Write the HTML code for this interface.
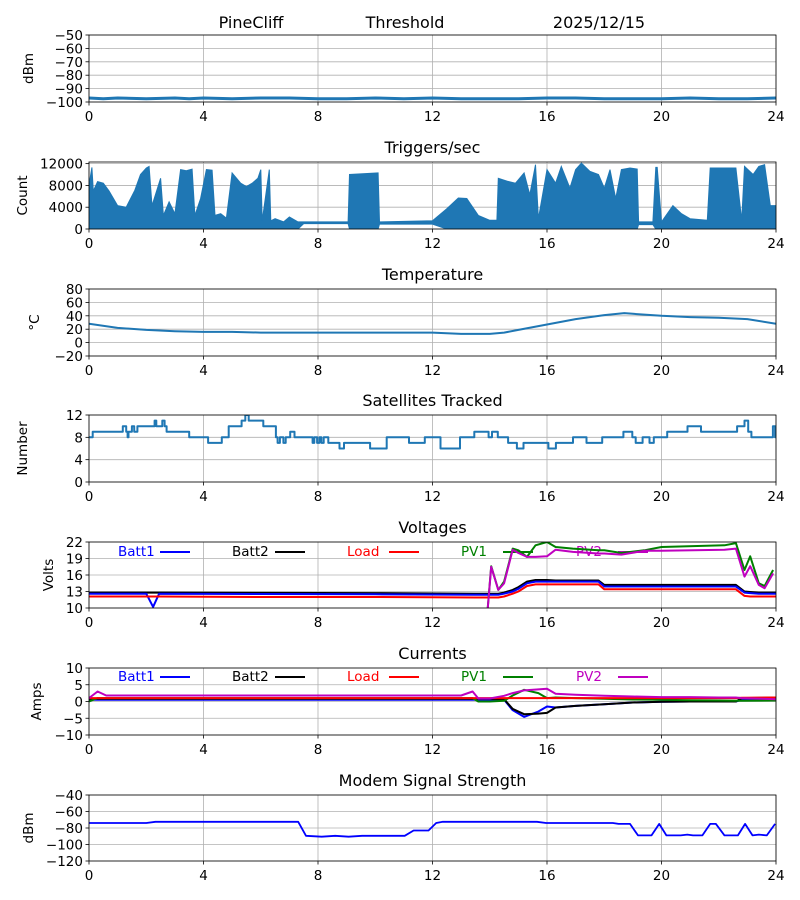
<!DOCTYPE html>
<html><head><meta charset="utf-8">
<style>
html,body{margin:0;padding:0;background:#fff;}
svg{display:block;font-family:"DejaVu Sans","Liberation Sans",sans-serif;}
</style></head>
<body>
<svg id="fig" width="800" height="900" viewBox="0 0 800 900" xmlns="http://www.w3.org/2000/svg">
<text x="251" y="28" font-size="16" text-anchor="middle">PineCliff</text>
<text x="405" y="28" font-size="16" text-anchor="middle">Threshold</text>
<text x="599" y="28" font-size="16" text-anchor="middle">2025/12/15</text>
</svg>
<script>
// ---------- data ----------
const xTicks = [0,4,8,12,16,20,24];
const sigHours = [0,0.5,1,2,3,3.5,4,5,6,7,8,9,10,11,12,13,14,15,16,17,18,19,20,21,22,23,24];
const sigValues = [-97,-97.5,-97,-97.5,-97,-97.5,-97,-97.5,-97,-97,-97.5,-97.5,-97,-97.5,-97,-97.5,-97.5,-97.5,-97,-97,-97.5,-97.5,-97.5,-97,-97.5,-97.5,-97];
const trigHours = [0,0.1,0.15,0.3,0.5,0.7,1,1.3,1.6,1.8,2.0,2.1,2.2,2.5,2.6,2.8,3.0,3.2,3.4,3.6,3.7,3.9,4.1,4.3,4.4,4.6,4.8,5.0,5.3,5.5,5.7,5.9,6.0,6.05,6.3,6.35,6.5,6.8,7.0,7.3,7.5,9.05,9.1,10.1,10.15,12.0,12.5,12.9,13.2,13.6,14.0,14.25,14.3,14.6,14.9,15.2,15.4,15.6,15.7,16,16.3,16.5,16.8,17,17.2,17.5,17.8,18,18.2,18.4,18.6,18.9,19.15,19.2,19.7,19.8,19.85,20,20.4,20.7,21,21.6,21.7,22.3,22.6,22.8,22.9,23.2,23.4,23.6,23.8,24];
const trigHigh = [8100,11300,7000,8700,8400,7000,4300,4000,7100,10000,11200,11500,4300,9300,2500,5000,2800,10900,10700,11000,2500,5600,10900,10800,2500,2800,2000,10300,8400,7800,8400,9300,10900,1500,10900,1500,1900,1300,2200,1300,1300,1300,10000,10300,1300,1500,3700,5700,5600,2500,1600,1600,9300,8800,8400,10300,6300,11800,1900,10900,8400,11500,7500,10900,12100,10600,10000,7500,10900,5600,10900,11200,11000,1300,1300,11300,11300,1300,4300,2800,1900,1600,11200,11200,11200,1600,11500,10000,11500,11800,4300,4300];
const trigLow = [0,0,0,0,0,0,0,0,0,0,0,0,0,0,0,0,0,0,0,0,0,0,0,0,0,0,0,0,0,0,0,0,0,0,0,0,0,0,0,0,1000,1000,0,0,900,900,0,0,0,0,0,0,0,0,0,0,0,0,0,0,0,0,0,0,0,0,0,0,0,0,0,0,0,800,800,0,0,0,0,0,0,0,0,0,0,0,0,0,0,0,0,0];
const tempHours = [0,1,2,3,4,5,6,8,10,12,13,14,14.5,15,16,17,18,18.7,19,20,21,22,23,24];
const tempValues = [28,22,19,17,16,16,15,15,15,15,13,13,15,19,27,35,41,44,43,40,38,37,35,28];
const satHours = [0,0.13,1.18,1.3,1.35,1.38,1.5,1.58,1.69,2.29,2.35,2.56,2.64,2.71,3.5,4.16,4.64,4.88,5.33,5.46,5.58,6.09,6.53,6.59,6.67,6.79,6.87,7.03,7.18,7.81,7.87,7.97,8.05,8.12,8.2,8.36,8.67,8.75,8.91,9.82,10.4,11.18,11.73,12.28,12.96,13.46,13.96,14.08,14.28,14.64,14.95,15.18,16.05,16.31,16.91,17.38,17.93,18.67,18.98,19.1,19.34,19.58,19.73,20.2,20.91,21.38,22.64,22.9,23.03,23.14,23.89,23.97,24];
const satValues = [8,9,10,9,8,9,10,9,10,11,10,11,10,9,8,7,8,10,11,12,11,10,8,7,8,7,8,9,8,7,8,7,8,7,8,7,7,6,7,6,8,7,8,6,8,9,8,9,8,7,6,7,6,7,8,7,8,9,8,7,8,7,8,9,10,9,10,11,9,8,10,8,8];
const voltHours = [0,2.0,2.24,2.45,6,10,13.5,13.77,14.05,14.3,14.5,14.8,15.0,15.3,15.6,16.0,16.3,16.9,17.8,18.0,18.6,19.4,20,22.2,22.6,22.9,23.1,23.4,23.6,23.9];
const batt1Volts = [12.6,12.6,10.2,12.6,12.55,12.5,12.4,12.4,12.4,12.4,12.6,13.0,13.5,14.5,14.8,14.8,14.8,14.8,14.8,13.9,13.9,13.9,13.9,13.9,13.9,12.8,12.7,12.6,12.6,12.6];
const batt2Volts = [12.8,12.8,12.8,12.8,12.75,12.7,12.6,12.6,12.6,12.6,12.8,13.3,13.8,14.8,15.1,15.1,15.0,15.0,15.0,14.2,14.2,14.2,14.2,14.2,14.2,13.0,12.9,12.8,12.8,12.8];
const loadVolts = [12.1,12.1,12.1,12.1,12.0,12.0,11.9,11.9,11.9,11.9,12.1,12.6,13.0,14.0,14.3,14.3,14.3,14.3,14.3,13.4,13.4,13.4,13.4,13.4,13.4,12.2,12.1,12.1,12.1,12.1];
const pv1Volts = [null,null,null,null,null,null,null,0,17.6,13.3,14.8,20.8,20.5,19.3,21.4,22,21.1,20.8,20.5,20.5,20,20.5,21.1,21.4,21.8,16.9,19.4,14.5,14,16.9];
const pv2Volts = [null,null,null,null,null,null,null,0,17.5,13.3,14.5,20.6,20.0,19.3,19.3,19.4,20.6,20.2,19.9,19.9,19.7,20.4,20.4,20.6,20.8,15.7,17.6,14.2,13.6,16.3];
const curHours = [0,0.3,0.6,6,13.0,13.4,13.6,14.0,14.5,14.8,15.2,15.7,16.0,16.3,17,18,19,20,21,22,22.6,22.8,24];
const batt1Amps = [0.5,0.5,0.5,0.5,0.5,0.5,0.5,0.5,0.5,-2.6,-4.6,-3.0,-1.5,-1.8,-1.3,-0.8,-0.3,-0.1,0,0,0,0.5,0.6];
const batt2Amps = [0.8,0.8,0.8,0.8,0.8,0.8,0.8,0.8,0.7,-2.2,-3.8,-3.6,-3.4,-1.8,-1.3,-0.8,-0.3,-0.1,0,0,0,1.0,1.2];
const loadAmps = [1.0,1.0,1.0,1.0,1.0,1.0,1.0,1.0,1.0,1.0,1.0,1.0,1.0,1.0,1.0,1.0,1.0,1.0,1.0,1.0,1.0,1.1,1.2];
const pv1Amps = [0,1.0,1.0,1.0,1.0,1.0,0,0,0.2,1.8,3.5,2.5,1.0,1.2,1.0,0.8,0.6,0.5,0.4,0.3,0.2,0.2,0.3];
const pv2Amps = [1.0,3.0,1.8,1.8,1.8,3.0,0.9,0.9,1.7,2.5,3.3,3.6,3.8,2.3,2.0,1.7,1.5,1.3,1.3,1.2,1.2,1.0,0.7];
const modemHours = [0,2.0,2.32,7.31,7.58,8.13,8.6,9.07,9.54,11.03,11.34,11.86,12.13,12.36,15.65,15.97,18.3,18.5,18.9,19.18,19.65,19.92,20.17,20.67,20.9,21.1,21.43,21.7,21.9,22.2,22.67,22.92,23.18,23.4,23.68,23.97];
const modemValues = [-74,-74,-72.5,-72.5,-89.5,-90.5,-89.5,-90.5,-89.5,-89.5,-83,-83,-74,-72.5,-72.5,-74,-74,-75,-75,-89,-89,-75,-89,-89,-88,-89,-89,-75,-75,-89,-89,-75,-89,-88,-89,-75];

// ---------- drawing ----------
const NS = "http://www.w3.org/2000/svg";
const svg = document.getElementById('fig');
const X0 = 89, X1 = 776;
function xScale(h){ return X0 + (h/24)*(X1-X0); }
function mk(tag){ return document.createElementNS(NS, tag); }
function fmt(v){ return v < 0 ? '\u2212' + Math.abs(v) : String(v); }

const panels = [
 {key:'signal', top:35, bottom:102, ymin:-100, ymax:-50, yticks:[-50,-60,-70,-80,-90,-100], title:null, ylabel:'dBm', lx:33},
 {key:'triggers', top:162, bottom:229, ymin:0, ymax:12300, yticks:[0,4000,8000,12000], title:'Triggers/sec', ylabel:'Count', lx:27},
 {key:'temperature', top:289, bottom:356, ymin:-20, ymax:80, yticks:[-20,0,20,40,60,80], title:'Temperature', ylabel:'\u00B0C', lx:39},
 {key:'satellites', top:415, bottom:482, ymin:0, ymax:12, yticks:[0,4,8,12], title:'Satellites Tracked', ylabel:'Number', lx:27},
 {key:'voltages', top:542, bottom:608, ymin:10, ymax:22, yticks:[10,13,16,19,22], title:'Voltages', ylabel:'Volts', lx:53},
 {key:'currents', top:668, bottom:735, ymin:-10, ymax:10, yticks:[-10,-5,0,5,10], title:'Currents', ylabel:'Amps', lx:41},
 {key:'modem', top:795, bottom:861, ymin:-120, ymax:-40, yticks:[-120,-100,-80,-60,-40], title:'Modem Signal Strength', ylabel:'dBm', lx:33}
];

function yFn(p){ return v => p.bottom - (v - p.ymin)/(p.ymax - p.ymin)*(p.bottom - p.top); }

function drawFrame(p){
  const g = mk('g');
  
  
  svg.appendChild(g);
  const ys = yFn(p);
  const clip = mk('clipPath'); clip.setAttribute('id','clip-'+p.key);
  const cr = mk('rect'); cr.setAttribute('x',X0); cr.setAttribute('y',p.top); cr.setAttribute('width',X1-X0); cr.setAttribute('height',p.bottom-p.top);
  clip.appendChild(cr); g.appendChild(clip);
  xTicks.forEach(t => {
    const l = mk('line');
    
    
    l.setAttribute('x1', xScale(t)); l.setAttribute('x2', xScale(t));
    l.setAttribute('y1', p.top); l.setAttribute('y2', p.bottom);
    l.setAttribute('stroke', '#b0b0b0'); l.setAttribute('stroke-width', '0.8');
    g.appendChild(l);
    const tk = mk('line');
    
    
    tk.setAttribute('x1', xScale(t)); tk.setAttribute('x2', xScale(t));
    tk.setAttribute('y1', p.bottom); tk.setAttribute('y2', p.bottom + 3.5);
    tk.setAttribute('stroke', '#000'); tk.setAttribute('stroke-width', '0.8');
    g.appendChild(tk);
    const tx = mk('text');
    
    
    tx.setAttribute('x', xScale(t)); tx.setAttribute('y', p.bottom + 19);
    tx.setAttribute('font-size', '13.5'); tx.setAttribute('text-anchor', 'middle');
    tx.textContent = t;
    g.appendChild(tx);
  });
  p.yticks.forEach(t => {
    const y = ys(t);
    const l = mk('line');
    
    
    l.setAttribute('x1', X0); l.setAttribute('x2', X1);
    l.setAttribute('y1', y); l.setAttribute('y2', y);
    l.setAttribute('stroke', '#b0b0b0'); l.setAttribute('stroke-width', '0.8');
    g.appendChild(l);
    const tk = mk('line');
    
    
    tk.setAttribute('x1', X0 - 3.5); tk.setAttribute('x2', X0);
    tk.setAttribute('y1', y); tk.setAttribute('y2', y);
    tk.setAttribute('stroke', '#000'); tk.setAttribute('stroke-width', '0.8');
    g.appendChild(tk);
    const tx = mk('text');
    
    
    tx.setAttribute('x', X0 - 6); tx.setAttribute('y', y + 5);
    tx.setAttribute('font-size', '13.5'); tx.setAttribute('text-anchor', 'end');
    tx.textContent = fmt(t);
    g.appendChild(tx);
  });
  if (p.title){
    const tt = mk('text');
    
    
    tt.setAttribute('x', (X0+X1)/2); tt.setAttribute('y', p.top - 9);
    tt.setAttribute('font-size', '16'); tt.setAttribute('text-anchor', 'middle');
    tt.textContent = p.title;
    g.appendChild(tt);
  }
  const yl = mk('text');
  
  
  const cy = (p.top + p.bottom)/2;
  yl.setAttribute('x', p.lx); yl.setAttribute('y', cy);
  yl.setAttribute('transform', 'rotate(-90 ' + p.lx + ' ' + cy + ')');
  yl.setAttribute('font-size', '13.5'); yl.setAttribute('text-anchor', 'middle');
  yl.textContent = p.ylabel;
  g.appendChild(yl);
  const dg = mk('g');
  
  
  dg.setAttribute('clip-path', 'url(#clip-' + p.key + ')');
  g.appendChild(dg);
  const fr = mk('rect');
  
  
  fr.setAttribute('x', X0); fr.setAttribute('y', p.top);
  fr.setAttribute('width', X1-X0); fr.setAttribute('height', p.bottom-p.top);
  fr.setAttribute('fill', 'none'); fr.setAttribute('stroke', '#000'); fr.setAttribute('stroke-width', '0.8');
  g.appendChild(fr);
  return {g: g, dg: dg, ys: ys};
}

function linePath(hours, vals, ys, step){
  let d = '', pen = false;
  for (let i = 0; i < hours.length; i++){
    const v = vals[i];
    if (v === null || v === undefined){ pen = false; continue; }
    const x = xScale(hours[i]), y = ys(v);
    if (!pen){ d += 'M' + x.toFixed(1) + ' ' + y.toFixed(1); pen = true; }
    else if (step){ d += 'H' + x.toFixed(1) + 'V' + y.toFixed(1); }
    else { d += 'L' + x.toFixed(1) + ' ' + y.toFixed(1); }
  }
  return d;
}

function addLine(ctx, name, hours, vals, color, width, step, extend){
  const path = mk('path');
  
  
  let d = linePath(hours, vals, ctx.ys, step);
  if (extend){ d += 'H' + xScale(24); }
  path.setAttribute('d', d);
  path.setAttribute('fill', 'none'); path.setAttribute('stroke', color);
  path.setAttribute('stroke-width', width); path.setAttribute('stroke-linejoin', 'round');
  ctx.dg.appendChild(path);
}

const C = panels.map(drawFrame);

addLine(C[0], 'signal-line', sigHours, sigValues, '#1f77b4', 3, false, false);

(function(){
  const ys = C[1].ys;
  let d = 'M' + xScale(trigHours[0]) + ' ' + ys(trigHigh[0]);
  for (let i = 1; i < trigHours.length; i++) d += 'L' + xScale(trigHours[i]).toFixed(1) + ' ' + ys(trigHigh[i]).toFixed(1);
  for (let i = trigHours.length - 1; i >= 0; i--) d += 'L' + xScale(trigHours[i]).toFixed(1) + ' ' + ys(trigLow[i]).toFixed(1);
  d += 'Z';
  const p = mk('path');
  
  
  p.setAttribute('d', d);
  p.setAttribute('fill', '#1f77b4'); p.setAttribute('stroke', '#1f77b4'); p.setAttribute('stroke-width', '1');
  C[1].dg.appendChild(p);
})();

addLine(C[2], 'temperature-line', tempHours, tempValues, '#1f77b4', 2, false, false);
addLine(C[3], 'satellites-line', satHours, satValues, '#1f77b4', 2, true, false);

const legendItems = [
  {label:'Batt1', color:'#0000ff', tx:118, lx:160},
  {label:'Batt2', color:'#000000', tx:232, lx:275},
  {label:'Load', color:'#ff0000', tx:347, lx:389},
  {label:'PV1', color:'#008000', tx:461, lx:503},
  {label:'PV2', color:'#bf00bf', tx:576, lx:618}
];
function drawLegend(ctx, key, y){
  legendItems.forEach(it => {
    const t = mk('text');
    
    
    t.setAttribute('x', it.tx); t.setAttribute('y', y + 5);
    t.setAttribute('font-size', '13.5'); t.setAttribute('fill', it.color);
    t.textContent = it.label;
    ctx.g.insertBefore(t, ctx.dg);
    const l = mk('line');
    
    
    l.setAttribute('x1', it.lx); l.setAttribute('x2', it.lx + 30);
    l.setAttribute('y1', y + 1); l.setAttribute('y2', y + 1);
    l.setAttribute('stroke', it.color); l.setAttribute('stroke-width', '2');
    ctx.g.insertBefore(l, ctx.dg);
  });
}
drawLegend(C[4], 'voltages', 551);
drawLegend(C[5], 'currents', 676);

addLine(C[4], 'batt2-voltage-line', voltHours, batt2Volts, '#000000', 2, false, true);
addLine(C[4], 'batt1-voltage-line', voltHours, batt1Volts, '#0000ff', 2, false, true);
addLine(C[4], 'load-voltage-line', voltHours, loadVolts, '#ff0000', 2, false, true);
addLine(C[4], 'pv1-voltage-line', voltHours, pv1Volts, '#008000', 2, false, false);
addLine(C[4], 'pv2-voltage-line', voltHours, pv2Volts, '#bf00bf', 2, false, false);

addLine(C[5], 'batt1-current-line', curHours, batt1Amps, '#0000ff', 2, false, false);
addLine(C[5], 'batt2-current-line', curHours, batt2Amps, '#000000', 2, false, false);
addLine(C[5], 'pv1-current-line', curHours, pv1Amps, '#008000', 2, false, false);
addLine(C[5], 'load-current-line', curHours, loadAmps, '#ff0000', 2, false, false);
addLine(C[5], 'pv2-current-line', curHours, pv2Amps, '#bf00bf', 2, false, false);

addLine(C[6], 'modem-signal-line', modemHours, modemValues, '#0000ff', 1.8, false, false);
</script>
</body></html>
